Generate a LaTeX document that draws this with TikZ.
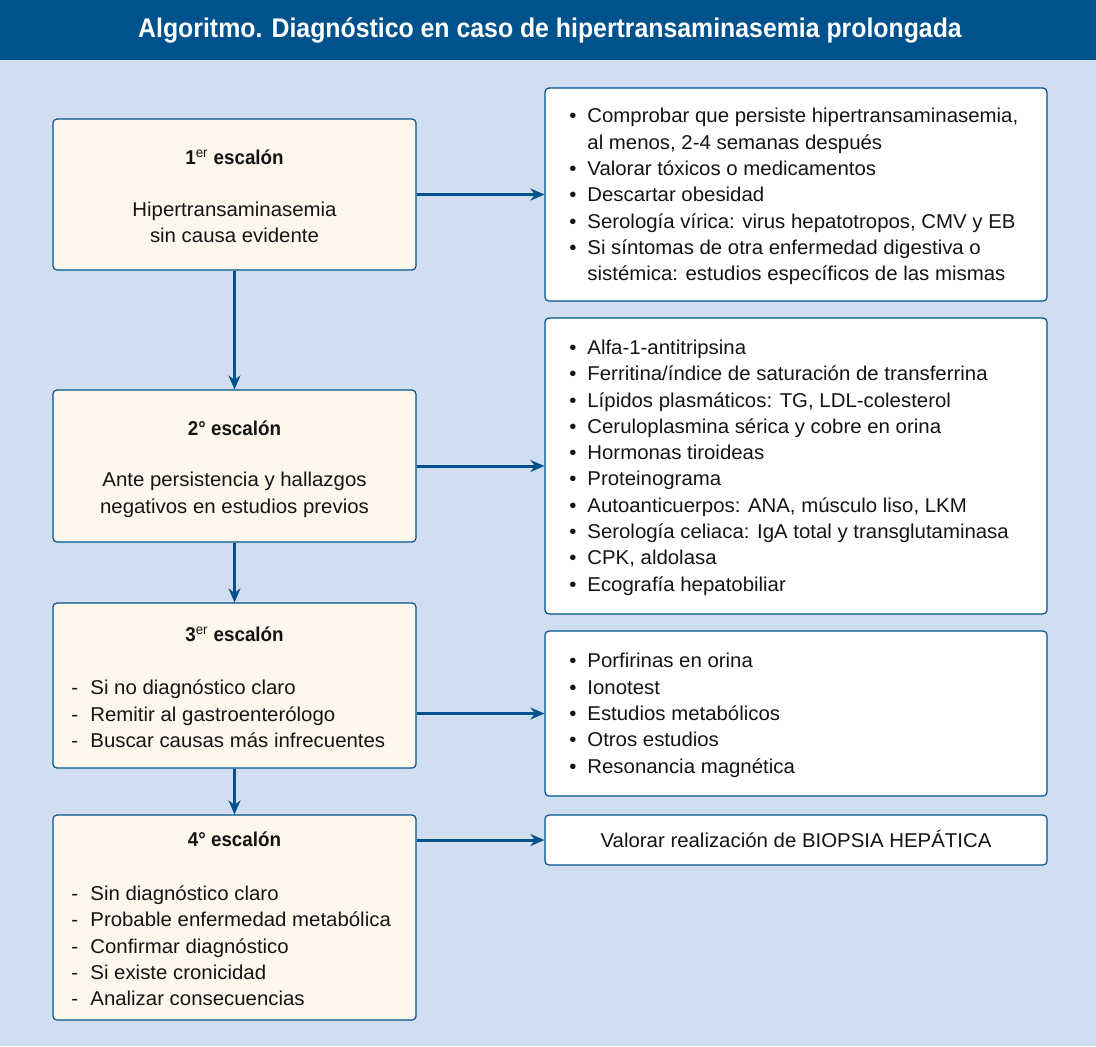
\documentclass[tikz,border=0pt]{standalone}
\usepackage{fontspec}
\setmainfont{Liberation Sans}[FakeStretch=1.02]
\newfontfamily\headfont{Liberation Sans}[FakeStretch=0.92]
\newfontfamily\stepfont{Liberation Sans}[FakeStretch=0.94]
\usetikzlibrary{arrows.meta,positioning,calc}
\definecolor{HeadBlue}{RGB}{0,82,140}
\definecolor{PageBlue}{RGB}{209,221,240}
\definecolor{StepCream}{RGB}{255,246,236}
\definecolor{InkDark}{RGB}{20,20,20}
\newcommand{\bul}{\makebox[9pt][l]{\textbullet}}
\newcommand{\cont}{\hspace*{9pt}}
\newcommand{\gui}{\makebox[9.5pt][l]{-}}
\newcommand{\st}{\rule{0pt}{10pt}}

\begin{document}
\begin{tikzpicture}[x=0.5pt,y=-0.5pt,
    esc/.style={draw=HeadBlue,line width=0.6pt,fill=StepCream,
                rounded corners=2pt,minimum width=181.5pt,inner sep=0pt},
    lst/.style={draw=HeadBlue,line width=0.6pt,fill=white,
                rounded corners=2pt,minimum width=251pt,inner sep=0pt},
    ttl/.style={font=\stepfont\bfseries\fontsize{10}{13.15}\selectfont,text=InkDark,
                anchor=base,inner sep=0pt},
    txt/.style={font=\fontsize{10}{13.15}\selectfont,text=InkDark,
                align=left,anchor=north west,inner sep=0pt},
    ctr/.style={txt,align=center,anchor=north},
    arr/.style={-{Stealth[length=7pt,width=6pt]},HeadBlue,line width=1.5pt}
  ]
  \fill[PageBlue] (0,0) rectangle (1096,1046);
  \fill[HeadBlue] (0,0) rectangle (1096,60);
  \node[font=\headfont\bfseries\fontsize{13.5}{15}\selectfont,text=white]
    (head) at (550,30) {Algoritmo. Diagnóstico en caso de hipertransaminasemia prolongada};

  \node[esc,minimum height=75.5pt] (e1) at (234.5,194.5) {};
  \node[esc,minimum height=76pt]   (e2) at (234.5,466) {};
  \node[esc,minimum height=82.5pt] (e3) at (234.5,685.5) {};
  \node[esc,minimum height=102.5pt](e4) at (234.5,917.5) {};

  \node[lst,minimum height=106.5pt] (l1) at (796,194.5) {};
  \node[lst,minimum height=148pt]   (l2) at (796,466) {};
  \node[lst,minimum height=82.5pt]  (l3) at (796,713.5) {};
  \node[lst,minimum height=25pt]    (l4) at (796,840) {};

  \node[ttl] (e1t) at (234.5,164.5) {1\textsuperscript{\mdseries er} escalón};
  \node[ctr] (e1b) at (234.5,196) {\st Hipertransaminasemia\\sin causa evidente};
  \node[ttl] (e2t) at (234.5,435) {2° escalón};
  \node[ctr] (e2b) at (234.5,466.5) {\st Ante persistencia y hallazgos\\negativos en estudios previos};
  \node[ttl] (e3t) at (234.5,641.5) {3\textsuperscript{\mdseries er} escalón};
  \node[txt] (e3b) at (71,674.5) {\st\gui Si no diagnóstico claro\\
    \gui Remitir al gastroenterólogo\\\gui Buscar causas más infrecuentes};
  \node[ttl] (e4t) at (234.5,846.5) {4° escalón};
  \node[txt] (e4b) at (71,880) {\st\gui Sin diagnóstico claro\\
    \gui Probable enfermedad metabólica\\\gui Confirmar diagnóstico\\
    \gui Si existe cronicidad\\\gui Analizar consecuencias};

  \node[txt] (l1b) at (569,102.5) {\st\bul Comprobar que persiste hipertransaminasemia,\\
    \cont al menos, 2-4 semanas después\\
    \bul Valorar tóxicos o medicamentos\\
    \bul Descartar obesidad\\
    \bul Serología vírica: virus hepatotropos, CMV y EB\\
    \bul Si síntomas de otra enfermedad digestiva o\\
    \cont sistémica: estudios específicos de las mismas};
  \node[txt] (l2b) at (569,334) {\st\bul Alfa-1-antitripsina\\
    \bul Ferritina/índice de saturación de transferrina\\
    \bul Lípidos plasmáticos: TG, LDL-colesterol\\
    \bul Ceruloplasmina sérica y cobre en orina\\
    \bul Hormonas tiroideas\\
    \bul Proteinograma\\
    \bul Autoanticuerpos: ANA, músculo liso, LKM\\
    \bul Serología celiaca: IgA total y transglutaminasa\\
    \bul CPK, aldolasa\\
    \bul Ecografía hepatobiliar};
  \node[txt] (l3b) at (569,647.5) {\st\bul Porfirinas en orina\\
    \bul Ionotest\\
    \bul Estudios metabólicos\\
    \bul Otros estudios\\
    \bul Resonancia magnética};
  \node[txt,anchor=base] (l4b) at (796,847.5) {Valorar realización de BIOPSIA HEPÁTICA};

  \draw[arr] (e1.south) -- (e2.north);
  \draw[arr] (e2.south) -- (e3.north);
  \draw[arr] (e3.south) -- (e4.north);
  \draw[arr] (e1.east) -- (l1.west);
  \draw[arr] (e2.east) -- (l2.west);
  \draw[arr] (e3.east |- l3.west) -- (l3.west);
  \draw[arr] (e4.east |- l4.west) -- (l4.west);
\end{tikzpicture}
\end{document}
